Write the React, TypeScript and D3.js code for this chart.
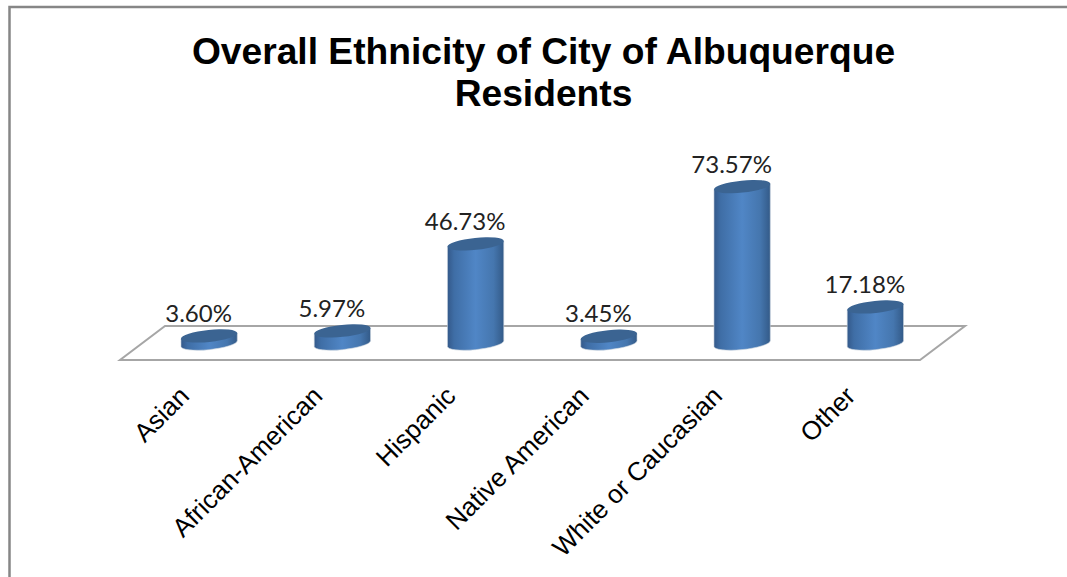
import React from "react";
import * as d3 from "d3";

const categories = ["Asian", "African-American", "Hispanic", "Native American", "White or Caucasian", "Other"];
const values = [3.6, 5.97, 46.73, 3.45, 73.57, 17.18];
const valueLabels = ["3.60%", "5.97%", "46.73%", "3.45%", "73.57%", "17.18%"];
const titleLines = ["Overall Ethnicity of City of Albuquerque", "Residents"];

const W = 1067, H = 577;
const x = d3.scaleBand<string>().domain(categories).range([142.5, 942]).paddingInner(0).paddingOuter(0);
const y = d3.scaleLinear().domain([0, 73.57]).range([343.6, 186.6]);
const RX = 28.3, RY = 6, ROT = -6;

function edge() {
  const t = (ROT * Math.PI) / 180;
  const a = Math.atan2(-RY * Math.sin(t), RX * Math.cos(t));
  return {
    dx: RX * Math.cos(a) * Math.cos(t) - RY * Math.sin(a) * Math.sin(t),
    dy: RX * Math.cos(a) * Math.sin(t) + RY * Math.sin(a) * Math.cos(t),
  };
}

function Cylinder({ name, value }: { name: string; value: number }) {
  const cx = x(name)! + x.bandwidth() / 2;
  const top = y(value), base = y(0);
  const { dx, dy } = edge();
  const d = `M${cx - dx},${top - dy} L${cx - dx},${base - dy} A${RX},${RY} ${ROT} 0 0 ${cx + dx},${base + dy} L${cx + dx},${top + dy} Z`;
  return (
    <g>
      <path d={d} fill="url(#cyl)" stroke="#c9d3de" strokeWidth={0.6} />
      <ellipse cx={cx} cy={top} rx={RX} ry={RY} transform={`rotate(${ROT} ${cx} ${top})`} fill="#3b6492" />
    </g>
  );
}

export default function App() {
  const floor = d3.line()([[120, 360], [920, 360], [965, 326], [165, 326]]) + "Z";
  return (
    <svg width={W} height={H} style={{ position: "absolute", left: 0, top: 0, background: "#fff" }}>
      <defs>
        <linearGradient id="cyl" x1="0" x2="1" y1="0" y2="0">
          <stop offset="0" stopColor="#34598a" />
          <stop offset="0.12" stopColor="#3f6ea6" />
          <stop offset="0.5" stopColor="#5086c6" />
          <stop offset="0.82" stopColor="#4576ae" />
          <stop offset="1" stopColor="#335a88" />
        </linearGradient>
      </defs>
      <path d="M9.5,577 V7 H1067" fill="none" stroke="#868686" strokeWidth={2.5} />
      {titleLines.map((t, i) => (
        <text key={t} x={543.5} y={64 + i * 42} textAnchor="middle" fontFamily="Liberation Sans" fontWeight="bold" fontSize={37.2} fill="#000">{t}</text>
      ))}
      <path d={floor} fill="#fff" stroke="#a6a6a6" strokeWidth={2} />
      {categories.map((c, i) => <Cylinder key={c} name={c} value={values[i]} />)}
      {categories.map((c, i) => (
        <text key={c} x={x(c)! + x.bandwidth() / 2 - 10.5} y={y(values[i]) - 14} textAnchor="middle" fontFamily="Lato" fontSize={24} fill="#222">{valueLabels[i]}</text>
      ))}
      {categories.map(c => {
        const px = x(c)! + x.bandwidth() / 2 - 32, py = 384;
        return (
          <text key={c} x={0} y={0} transform={`translate(${px},${py}) rotate(-45)`} textAnchor="end" dominantBaseline="hanging" fontFamily="Liberation Sans" fontSize={26} fill="#000">{c}</text>
        );
      })}
    </svg>
  );
}
